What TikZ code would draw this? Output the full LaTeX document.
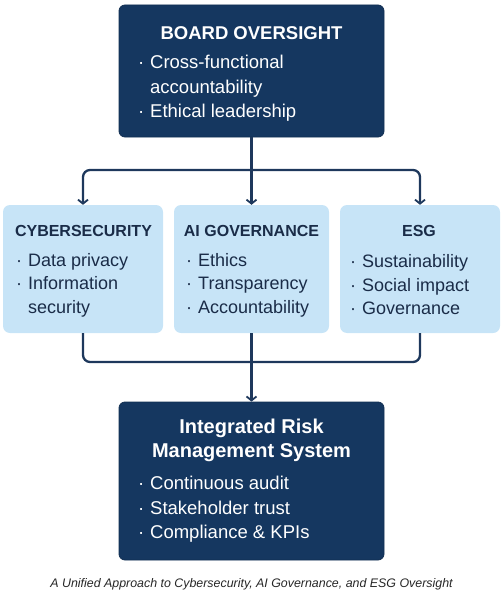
\documentclass[tikz,border=0pt]{standalone}
\usepackage{fontspec}
\setmainfont{Liberation Sans}
\usetikzlibrary{arrows.meta}

\definecolor{navy}{RGB}{21,55,96}
\definecolor{paleblue}{RGB}{199,228,247}
\definecolor{inkblue}{RGB}{26,44,72}
\definecolor{wireblue}{RGB}{30,56,92}

\newcommand{\bul}{\makebox[12pt][l]{·}}
\newcommand{\ind}{\hspace*{12pt}}

\begin{document}
\begin{tikzpicture}[x=1pt, y=-1pt,
  darkbox/.style={draw=navy!85!black, fill=navy, rounded corners=6pt, line width=0.8pt},
  lightbox/.style={fill=paleblue, rounded corners=7pt},
  bigtitle/.style={text=white, font=\bfseries\fontsize{18.5}{24}\selectfont, inner sep=0pt, align=center},
  bigtext/.style={text=white, font=\fontsize{18.5}{24.5}\selectfont, inner sep=0pt, align=left, anchor=west},
  midtitle/.style={text=inkblue, font=\bfseries\fontsize{16}{20}\selectfont, inner sep=0pt},
  midtext/.style={text=inkblue, font=\fontsize{18}{23.5}\selectfont, inner sep=0pt, align=left, anchor=west},
  wire/.style={draw=wireblue, line width=2.3pt, rounded corners=7pt},
  arr/.style={wire, -{Straight Barb[length=4pt, width=10pt, line width=1.8pt]}}
]
\useasboundingbox (0,0) rectangle (503,599);

% Board box
\node[darkbox, minimum width=265pt, minimum height=132pt] (board) at (251.5,71) {};
\node[bigtitle] (boardtitle) at (251.5,33) {BOARD OVERSIGHT};
\node[bigtext] (boardlist) at (138,88.5) {\bul Cross-functional\\\ind accountability\\\bul Ethical leadership};

% Three pillars
\node[lightbox, minimum width=160pt, minimum height=128pt] (cyber) at (83,269) {};
\node[lightbox, minimum width=155pt, minimum height=128pt] (aigov) at (251.5,269) {};
\node[lightbox, minimum width=160pt, minimum height=128pt] (esg) at (420,269) {};

\node[midtitle] (cybertitle) at (83.5,231) {CYBERSECURITY};
\node[midtitle] (aigovtitle) at (251.5,231) {AI GOVERNANCE};
\node[midtitle] (esgtitle) at (419,231) {ESG};

\node[midtext] (cyberlist) at (16,285) {\bul Data privacy\\\bul Information\\\ind security};
\node[midtext] (aigovlist) at (186,285) {\bul Ethics\\\bul Transparency\\\bul Accountability};
\node[midtext] (esglist) at (350,285) {\bul Sustainability\\\bul Social impact\\\bul Governance};

% Integrated system
\node[darkbox, minimum width=265pt, minimum height=158pt] (risk) at (251.5,481) {};
\node[bigtitle, font=\bfseries\fontsize{20}{24}\selectfont] (risktitle) at (251.5,440) {Integrated Risk\\Management System};
\node[bigtext] (risklist) at (138,509.5) {\bul Continuous audit\\\bul Stakeholder trust\\\bul Compliance \& KPIs};

% Caption
\node[font=\itshape\fontsize{12.4}{14}\selectfont, text=black!85] (caption) at (251.5,584) {A Unified Approach to Cybersecurity, AI Governance, and ESG Oversight};

% Connectors
\coordinate (split) at (251.5,170);
\coordinate (merge) at (251.5,362);
\draw[wire] (board.south) -- (split);
\draw[arr] (split) -| (cyber.north);
\draw[arr] (split) -| (esg.north);
\draw[arr] (board.south) -- (aigov.north);
\draw[wire] (cyber.south) |- (merge);
\draw[wire] (esg.south) |- (merge);
\draw[arr] (aigov.south) -- (risk.north);

\end{tikzpicture}
\end{document}
